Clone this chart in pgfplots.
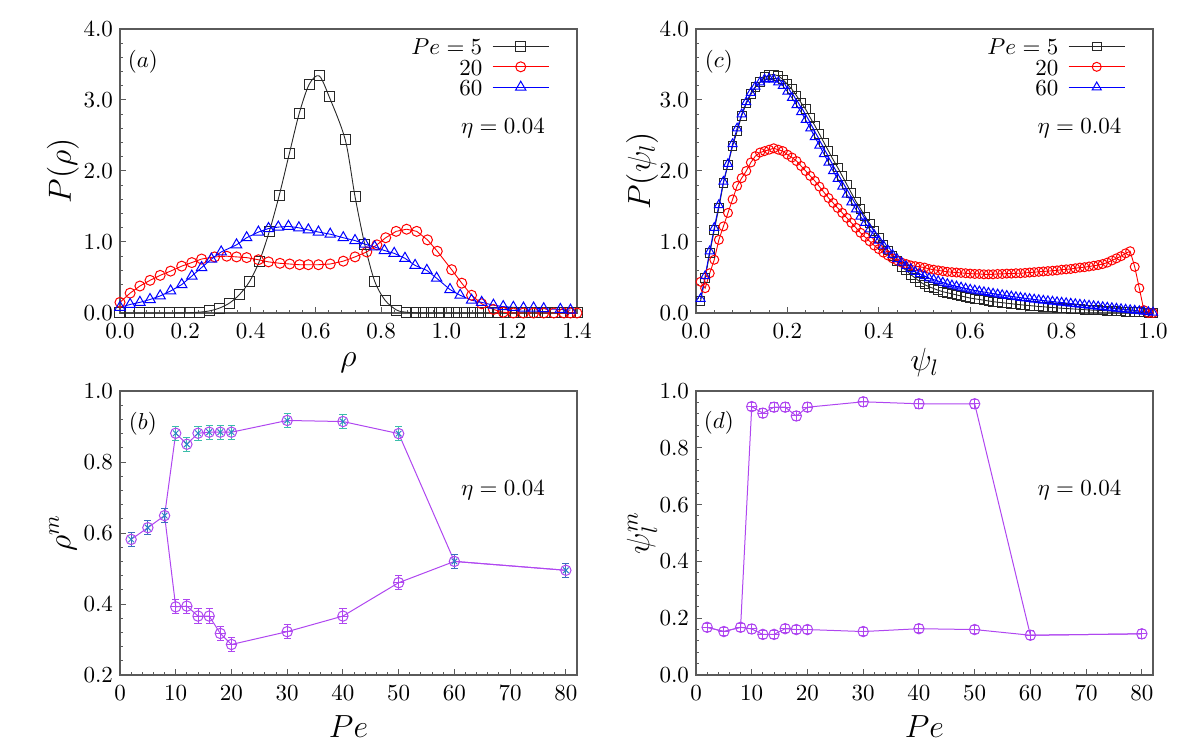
\RequirePackage{fix-cm}
\documentclass[border=0pt]{standalone}
\usepackage{pgfplots}
\usepackage{pgfplotstable}
\pgfplotsset{compat=1.18}
\definecolor{axgray}{RGB}{90,90,90}
\definecolor{pur}{RGB}{175,70,240}
\definecolor{tealc}{RGB}{60,190,170}
\definecolor{bluec}{RGB}{60,110,190}
\definecolor{blk}{RGB}{40,40,40}

\pgfplotsset{
  panel/.style={
    scale only axis, width=228.5pt, height=142pt,
    enlargelimits=false, clip=false,
    axis line style={draw=axgray, line width=0.8pt},
    every tick/.style={draw=axgray, line width=0.5pt},
    major tick length=2.8pt, minor tick length=1.6pt,
    tick align=inside, tick pos=left,
    minor x tick num=4, minor y tick num=4,
    tick label style={font=\fontsize{11.5}{13}\selectfont},
    xticklabel style={yshift=-2pt},
    label style={font=\fontsize{16}{19}\selectfont},
    ylabel style={anchor=center},
    xlabel style={anchor=center},
    anchor=south west,
  },
  onedec/.style={/pgf/number format/fixed, /pgf/number format/fixed zerofill, /pgf/number format/precision=1},
  leg/.style={
    legend plot pos=right,
    legend cell align=right,
    legend style={draw=none, fill=none, inner sep=0pt, at={(rel axis cs:0.94,0.976)}, anchor=north east,
      font=\fontsize{11.5}{13}\selectfont, row sep=0pt, column sep=3pt,
      nodes={inner ysep=1pt, inner xsep=2pt, text height=8.2pt, text depth=0pt}},
    legend image code/.code={\draw[mark repeat=2, mark phase=2] plot coordinates {(0pt,0pt) (14pt,0pt) (28pt,0pt)};},
  },
}

% ---------- panel (a) ----------
\pgfplotstableread{
x y
0.0000 0.000
0.0305 0.000
0.0610 0.000
0.0915 0.000
0.1220 0.000
0.1525 0.000
0.1830 0.002
0.2135 0.004
0.2440 0.012
0.2745 0.030
0.3050 0.070
0.3355 0.140
0.3660 0.260
0.3965 0.440
0.4270 0.730
0.4575 1.150
0.4880 1.660
0.5185 2.240
0.5490 2.810
0.5795 3.220
0.6100 3.340
0.6405 3.050
0.6900 2.440
0.7200 1.640
0.7500 0.960
0.7800 0.450
0.8120 0.180
0.8480 0.040
0.8790 0.010
0.9050 0.003
0.9300 0.000
0.9550 0.000
0.9800 0.000
1.0050 0.000
1.0300 0.000
1.0550 0.000
1.0800 0.000
1.1050 0.000
1.1300 0.000
1.1550 0.000
1.1800 0.000
1.2050 0.000
1.2300 0.000
1.2550 0.000
1.2800 0.000
1.3050 0.000
1.3300 0.000
1.3550 0.000
1.3800 0.000
1.4000 0.000
}\aBlack

\pgfplotstableread{
x y
0.000 0.15
0.031 0.28
0.061 0.38
0.092 0.46
0.123 0.53
0.155 0.59
0.189 0.66
0.220 0.71
0.250 0.76
0.290 0.79
0.327 0.80
0.357 0.79
0.388 0.78
0.424 0.75
0.455 0.72
0.490 0.70
0.520 0.69
0.550 0.68
0.577 0.68
0.608 0.68
0.644 0.69
0.684 0.73
0.720 0.79
0.756 0.86
0.787 0.96
0.814 1.06
0.846 1.15
0.878 1.18
0.909 1.15
0.942 1.03
0.972 0.87
1.016 0.61
1.047 0.42
1.077 0.25
1.108 0.13
1.144 0.05
1.174 0.01
1.205 0.00
1.236 0.00
1.267 0.00
1.298 0.00
1.329 0.00
1.360 0.00
1.380 0.00
1.400 0.00
}\aRed

\pgfplotstableread{
x y
0.000 0.08
0.031 0.12
0.061 0.15
0.092 0.19
0.123 0.24
0.155 0.31
0.189 0.40
0.220 0.52
0.250 0.64
0.280 0.76
0.310 0.86
0.357 0.96
0.388 1.06
0.424 1.14
0.455 1.19
0.485 1.21
0.516 1.22
0.548 1.20
0.577 1.17
0.608 1.14
0.644 1.11
0.684 1.06
0.720 1.02
0.750 0.97
0.780 0.93
0.810 0.88
0.840 0.84
0.873 0.77
0.904 0.67
0.940 0.60
0.970 0.49
1.011 0.33
1.042 0.25
1.077 0.18
1.108 0.15
1.144 0.11
1.174 0.09
1.205 0.08
1.236 0.07
1.267 0.07
1.298 0.06
1.349 0.05
1.380 0.04
}\aBlue

% ---------- panel (c) ----------
\pgfplotstableread{
x k r b
0.01 0.17 0.44 0.20
0.02 0.49 0.35 0.52
0.03 0.84 0.56 0.87
0.04 1.17 0.75 1.20
0.05 1.48 1.03 1.52
0.06 1.83 1.22 1.85
0.07 2.09 1.41 2.10
0.08 2.35 1.60 2.38
0.09 2.56 1.79 2.60
0.10 2.78 1.90 2.80
0.11 2.95 2.00 2.97
0.12 3.08 2.12 3.10
0.13 3.18 2.21 3.19
0.14 3.25 2.26 3.25
0.15 3.32 2.28 3.29
0.16 3.35 2.30 3.30
0.17 3.36 2.32 3.29
0.18 3.34 2.30 3.25
0.19 3.29 2.28 3.20
0.20 3.22 2.23 3.12
0.21 3.15 2.19 3.03
0.22 3.06 2.14 2.93
0.23 2.96 2.07 2.83
0.24 2.87 2.00 2.72
0.25 2.75 1.93 2.60
0.26 2.64 1.86 2.48
0.27 2.52 1.78 2.36
0.28 2.40 1.70 2.24
0.29 2.28 1.62 2.12
0.30 2.16 1.55 2.00
0.31 2.05 1.48 1.89
0.32 1.93 1.41 1.78
0.33 1.81 1.34 1.67
0.34 1.69 1.27 1.56
0.35 1.57 1.20 1.46
0.36 1.47 1.13 1.36
0.37 1.36 1.07 1.27
0.38 1.26 1.01 1.18
0.39 1.16 0.95 1.10
0.40 1.06 0.90 1.02
0.41 0.96 0.85 0.95
0.42 0.88 0.81 0.88
0.43 0.80 0.77 0.82
0.44 0.73 0.74 0.76
0.45 0.65 0.71 0.71
0.46 0.60 0.69 0.66
0.47 0.54 0.67 0.62
0.48 0.49 0.66 0.58
0.49 0.44 0.65 0.55
0.50 0.40 0.64 0.52
0.51 0.370 0.62 0.49
0.52 0.345 0.61 0.47
0.53 0.320 0.60 0.45
0.54 0.300 0.59 0.43
0.55 0.285 0.58 0.41
0.56 0.270 0.575 0.39
0.57 0.255 0.57 0.375
0.58 0.240 0.565 0.36
0.59 0.225 0.56 0.345
0.60 0.210 0.555 0.33
0.61 0.200 0.55 0.318
0.62 0.190 0.55 0.306
0.63 0.180 0.545 0.295
0.64 0.170 0.545 0.284
0.65 0.160 0.545 0.273
0.66 0.152 0.55 0.263
0.67 0.145 0.55 0.253
0.68 0.138 0.555 0.243
0.69 0.130 0.555 0.234
0.70 0.123 0.56 0.225
0.71 0.116 0.56 0.216
0.72 0.110 0.565 0.207
0.73 0.104 0.57 0.199
0.74 0.098 0.575 0.191
0.75 0.092 0.58 0.183
0.76 0.087 0.585 0.175
0.77 0.082 0.59 0.168
0.78 0.077 0.595 0.161
0.79 0.072 0.60 0.154
0.80 0.067 0.61 0.147
0.81 0.063 0.615 0.140
0.82 0.059 0.62 0.133
0.83 0.055 0.63 0.126
0.84 0.051 0.64 0.119
0.85 0.047 0.645 0.112
0.86 0.043 0.655 0.105
0.87 0.040 0.665 0.098
0.88 0.037 0.675 0.091
0.89 0.034 0.69 0.084
0.90 0.031 0.71 0.077
0.91 0.028 0.74 0.070
0.92 0.025 0.77 0.063
0.93 0.022 0.80 0.056
0.94 0.019 0.84 0.049
0.95 0.016 0.87 0.042
0.96 0.013 0.65 0.035
0.97 0.010 0.35 0.028
0.98 0.007 0.04 0.021
0.99 0.004 0.00 0.014
1.00 0.002 0.00 0.007
}\cData

% ---------- panel (b) ----------
\pgfplotstableread{
pe v
2 0.582
5 0.615
8 0.649
10 0.881
12 0.850
14 0.881
16 0.884
18 0.884
20 0.884
30 0.917
40 0.914
50 0.880
60 0.520
80 0.495
}\bLineU
\pgfplotstableread{
pe v
8 0.649
10 0.392
12 0.394
14 0.366
16 0.366
18 0.317
20 0.286
30 0.322
40 0.366
50 0.460
60 0.520
80 0.495
}\bLineL
\pgfplotstableread{
pe v e
10 0.881 0.020
12 0.850 0.020
14 0.881 0.020
16 0.884 0.020
18 0.884 0.020
20 0.884 0.020
30 0.917 0.020
40 0.914 0.020
50 0.880 0.020
}\bUp
\pgfplotstableread{
pe v e
2 0.582 0.020
5 0.615 0.020
8 0.649 0.020
60 0.520 0.020
80 0.495 0.020
}\bSingle
\pgfplotstableread{
pe v e
10 0.392 0.020
12 0.394 0.020
14 0.366 0.020
16 0.366 0.020
18 0.317 0.020
20 0.286 0.020
30 0.322 0.020
40 0.366 0.020
50 0.460 0.020
}\bLow

% ---------- panel (d) ----------
\pgfplotstableread{
pe v
2 0.168
5 0.153
8 0.168
10 0.945
12 0.922
14 0.943
16 0.943
18 0.912
20 0.943
30 0.962
40 0.955
50 0.955
60 0.140
80 0.145
}\dLineU
\pgfplotstableread{
pe v e
2 0.168 0.015
5 0.153 0.015
8 0.168 0.015
10 0.162 0.015
12 0.143 0.015
14 0.143 0.015
16 0.163 0.015
18 0.160 0.015
20 0.160 0.015
30 0.153 0.015
40 0.163 0.015
50 0.160 0.015
60 0.140 0.015
80 0.145 0.015
}\dLow
\pgfplotstableread{
pe v e
10 0.945 0.015
12 0.922 0.015
14 0.943 0.015
16 0.943 0.015
18 0.912 0.015
20 0.943 0.015
30 0.962 0.015
40 0.955 0.015
50 0.955 0.015
}\dUp

\begin{document}
\begin{tikzpicture}
\useasboundingbox (0,0) rectangle (600pt,375pt);

% (a)
\begin{axis}[panel, leg, at={(60pt,218.5pt)},
  xmin=0, xmax=1.4, ymin=0, ymax=4,
  xtick={0,0.2,0.4,0.6,0.8,1.0,1.2,1.4}, ytick={0,1,2,3,4},
  xticklabel style={onedec}, yticklabel style={onedec},
  xlabel={$\rho$}, ylabel={$P(\rho)$},
  xlabel style={at={(rel axis cs:0.5,-0.176)}},
  ylabel style={at={(rel axis cs:-0.125,0.5)}},
  legend entries={$Pe=5$,$20$,$60$}]
\addplot[blk, line width=0.45pt, smooth, mark=square, mark size=2.5pt, mark options={solid, line width=0.5pt}] table[x=x,y=y] {\aBlack};
\addplot[red, line width=0.45pt, mark=o, mark size=2.5pt, mark options={solid, line width=0.5pt}] table[x=x,y=y] {\aRed};
\addplot[blue, line width=0.45pt, mark=triangle, mark size=3pt, mark options={solid, line width=0.5pt}] table[x=x,y=y] {\aBlue};
\node[font=\fontsize{11.5}{13}\selectfont] at (rel axis cs:0.05,0.883) {$(a)$};
\node[font=\fontsize{11.5}{13}\selectfont] at (rel axis cs:0.838,0.649) {$\eta = 0.04$};
\end{axis}

% (c)
\begin{axis}[panel, leg, at={(348pt,218.5pt)},
  xmin=0, xmax=1.0, ymin=0, ymax=4,
  xtick={0,0.2,0.4,0.6,0.8,1.0}, ytick={0,1,2,3,4},
  xticklabel style={onedec}, yticklabel style={onedec},
  xlabel={$\psi_l$}, ylabel={$P(\psi_l)$},
  xlabel style={at={(rel axis cs:0.5,-0.176)}},
  ylabel style={at={(rel axis cs:-0.118,0.5)}},
  legend entries={$Pe=5$,$20$,$60$}]
\addplot[blk, line width=0.45pt, mark=square, mark size=2.2pt, mark options={solid, line width=0.5pt}] table[x=x,y=k] {\cData};
\addplot[red, line width=0.45pt, mark=o, mark size=2.25pt, mark options={solid, line width=0.5pt}] table[x=x,y=r] {\cData};
\addplot[blue, line width=0.45pt, mark=triangle, mark size=2.6pt, mark options={solid, line width=0.5pt}] table[x=x,y=b] {\cData};
\node[font=\fontsize{11.5}{13}\selectfont] at (rel axis cs:0.05,0.883) {$(c)$};
\node[font=\fontsize{11.5}{13}\selectfont] at (rel axis cs:0.839,0.649) {$\eta = 0.04$};
\end{axis}

% (b)
\begin{axis}[panel, at={(60pt,37.5pt)},
  xmin=0, xmax=82, ymin=0.2, ymax=1.0,
  xtick={0,10,20,30,40,50,60,70,80}, ytick={0.2,0.4,0.6,0.8,1.0},
  yticklabel style={onedec},
  xlabel={$Pe$}, ylabel={$\rho^m$},
  xlabel style={at={(rel axis cs:0.5,-0.18)}},
  ylabel style={at={(rel axis cs:-0.125,0.5)}}]
\addplot[pur, line width=0.5pt, mark=none] table[x=pe,y=v] {\bLineU};
\addplot[pur, line width=0.5pt, mark=none] table[x=pe,y=v] {\bLineL};
\addplot[only marks, mark=o, mark size=2.6pt, mark options={pur, line width=0.5pt},
  error bars/.cd, y dir=both, y explicit,
  error bar style={pur, line width=0.5pt},
  error mark options={rotate=90, mark size=1.8pt, pur, line width=0.5pt}]
  table[x=pe, y=v, y error=e] {\bLow};
\addplot[only marks, mark=+, mark size=2.4pt, mark options={pur, line width=0.5pt}] table[x=pe,y=v] {\bLow};
\addplot[only marks, mark=o, mark size=2.6pt, mark options={pur, line width=0.5pt},
  error bars/.cd, y dir=both, y explicit,
  error bar style={tealc, line width=0.5pt},
  error mark options={rotate=90, mark size=1.8pt, tealc, line width=0.5pt}]
  table[x=pe, y=v, y error=e] {\bUp};
\addplot[only marks, mark=x, mark size=2pt, mark options={tealc!70!blue, line width=0.5pt}] table[x=pe,y=v] {\bUp};
\addplot[only marks, mark=o, mark size=2.6pt, mark options={pur, line width=0.5pt},
  error bars/.cd, y dir=both, y explicit,
  error bar style={bluec, line width=0.5pt},
  error mark options={rotate=90, mark size=1.8pt, bluec, line width=0.5pt}]
  table[x=pe, y=v, y error=e] {\bSingle};
\addplot[only marks, mark=x, mark size=2pt, mark options={tealc!70!blue, line width=0.5pt}] table[x=pe,y=v] {\bSingle};
\node[font=\fontsize{11.5}{13}\selectfont] at (rel axis cs:0.05,0.885) {$(b)$};
\node[font=\fontsize{11.5}{13}\selectfont] at (rel axis cs:0.838,0.649) {$\eta = 0.04$};
\end{axis}

% (d)
\begin{axis}[panel, at={(348pt,37.5pt)},
  xmin=0, xmax=82, ymin=0, ymax=1.0,
  xtick={0,10,20,30,40,50,60,70,80}, ytick={0,0.2,0.4,0.6,0.8,1.0},
  yticklabel style={onedec},
  xlabel={$Pe$}, ylabel={$\psi_l^m$},
  xlabel style={at={(rel axis cs:0.5,-0.18)}},
  ylabel style={at={(rel axis cs:-0.118,0.5)}}]
\addplot[pur, line width=0.5pt, mark=none] table[x=pe,y=v] {\dLineU};
\addplot[pur, line width=0.5pt, mark=none] table[x=pe,y=v] {\dLow};
\addplot[only marks, mark=o, mark size=2.6pt, mark options={pur, line width=0.5pt},
  error bars/.cd, y dir=both, y explicit,
  error bar style={pur, line width=0.5pt},
  error mark options={rotate=90, mark size=1.8pt, pur, line width=0.5pt}]
  table[x=pe, y=v, y error=e] {\dLow};
\addplot[only marks, mark=+, mark size=2.4pt, mark options={pur, line width=0.5pt}] table[x=pe,y=v] {\dLow};
\addplot[only marks, mark=o, mark size=2.6pt, mark options={pur, line width=0.5pt},
  error bars/.cd, y dir=both, y explicit,
  error bar style={pur, line width=0.5pt},
  error mark options={rotate=90, mark size=1.8pt, pur, line width=0.5pt}]
  table[x=pe, y=v, y error=e] {\dUp};
\addplot[only marks, mark=+, mark size=2.4pt, mark options={pur, line width=0.5pt}] table[x=pe,y=v] {\dUp};
\node[font=\fontsize{11.5}{13}\selectfont] at (rel axis cs:0.05,0.889) {$(d)$};
\node[font=\fontsize{11.5}{13}\selectfont] at (rel axis cs:0.839,0.649) {$\eta = 0.04$};
\end{axis}
\end{tikzpicture}
\end{document}
